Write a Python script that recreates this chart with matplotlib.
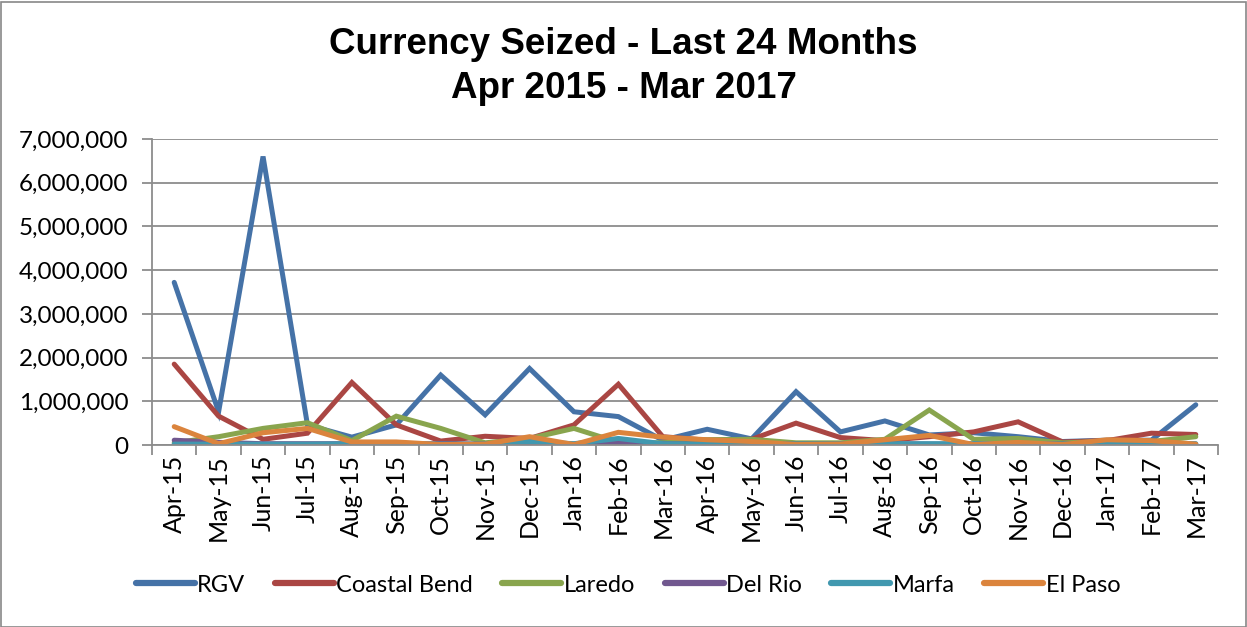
import matplotlib
matplotlib.use("Agg")
import matplotlib.pyplot as plt
from matplotlib.patches import Rectangle
from matplotlib.ticker import FuncFormatter, MultipleLocator
import numpy as np

months = ["Apr-15", "May-15", "Jun-15", "Jul-15", "Aug-15", "Sep-15", "Oct-15", "Nov-15",
          "Dec-15", "Jan-16", "Feb-16", "Mar-16", "Apr-16", "May-16", "Jun-16", "Jul-16",
          "Aug-16", "Sep-16", "Oct-16", "Nov-16", "Dec-16", "Jan-17", "Feb-17", "Mar-17"]

rgv = [3720000, 760000, 6600000, 460000, 180000, 460000, 1600000, 690000,
       1750000, 760000, 650000, 110000, 360000, 140000, 1220000, 300000,
       550000, 230000, 280000, 190000, 80000, 110000, 110000, 920000]
coastal_bend = [1850000, 660000, 130000, 270000, 1430000, 460000, 90000, 200000,
                150000, 460000, 1390000, 190000, 110000, 130000, 500000, 170000,
                100000, 190000, 300000, 530000, 70000, 100000, 270000, 240000]
laredo = [50000, 190000, 380000, 510000, 100000, 660000, 380000, 50000,
          150000, 380000, 60000, 50000, 120000, 130000, 50000, 50000,
          130000, 800000, 130000, 150000, 50000, 80000, 80000, 190000]
del_rio = [110000, 60000, 30000, 30000, 30000, 20000, 30000, 20000,
           40000, 20000, 40000, 30000, 20000, 20000, 20000, 20000,
           30000, 20000, 20000, 30000, 20000, 20000, 30000, 20000]
marfa = [20000, 20000, 20000, 20000, 30000, 30000, 20000, 20000,
         80000, 30000, 150000, 30000, 20000, 20000, 20000, 20000,
         30000, 30000, 30000, 30000, 20000, 50000, 40000, 30000]
el_paso = [420000, 30000, 280000, 380000, 70000, 70000, 10000, 20000,
           190000, 10000, 290000, 180000, 120000, 80000, 10000, 20000,
           120000, 220000, 10000, 60000, 10000, 120000, 100000, 20000]

series = [("RGV", rgv, "#4572A7"),
          ("Coastal Bend", coastal_bend, "#AA4643"),
          ("Laredo", laredo, "#89A54E"),
          ("Del Rio", del_rio, "#71588F"),
          ("Marfa", marfa, "#4198AF"),
          ("El Paso", el_paso, "#DB843D")]

W, H = 1247, 627
fig = plt.figure(figsize=(W / 100, H / 100), dpi=100)
fig.patches.append(Rectangle((0.5 / W, 0.5 / H), 1 - 2 / W, 1 - 2 / H, transform=fig.transFigure,
                             fill=False, edgecolor="#888888", linewidth=1.2))

ax = fig.add_axes([152 / W, (H - 445) / H, (1218 - 152) / W, (445 - 139) / H])
x = np.arange(len(months))
for name, vals, col in series:
    ax.plot(x, vals, color=col, linewidth=3.6, label=name, solid_capstyle="round",
            solid_joinstyle="miter")

ax.set_xlim(-0.5, len(months) - 0.5)
ax.set_ylim(0, 7000000)
ax.yaxis.set_major_locator(MultipleLocator(1000000))
ax.yaxis.set_major_formatter(FuncFormatter(lambda v, p: f"{int(v):,}"))
ax.grid(axis="y", color="#8c8c8c", linewidth=1.3)
ax.set_axisbelow(True)

ax.set_xticks(x)
ax.set_xticklabels(months, rotation=90, fontfamily="Lato", fontsize=18)
ax.set_xticks(np.arange(len(months) + 1) - 0.5, minor=True)
ax.tick_params(axis="x", which="major", length=0, pad=7)
ax.tick_params(axis="x", which="minor", length=7, color="#8c8c8c", width=1.3, direction="out")
ax.tick_params(axis="y", length=7, color="#8c8c8c", width=1.3, pad=10)
for lab in ax.get_yticklabels():
    lab.set_fontfamily("Lato")
    lab.set_fontsize(17.5)

for s in ["top", "right"]:
    ax.spines[s].set_visible(False)
for s in ["left", "bottom"]:
    ax.spines[s].set_color("#8c8c8c")
    ax.spines[s].set_linewidth(1.3)

fig.text(0.5, (H - 44) / H, "Currency Seized - Last 24 Months", ha="center", va="center",
         fontfamily="Liberation Sans", fontweight="bold", fontsize=26.5)
fig.text(0.5, (H - 88) / H, "Apr 2015 - Mar 2017", ha="center", va="center",
         fontfamily="Liberation Sans", fontweight="bold", fontsize=26.5)

leg = fig.legend(loc="center", bbox_to_anchor=(628 / W, (H - 585) / H), ncol=6, frameon=False,
                 prop={"family": "Lato", "size": 17}, handlelength=2.5, handletextpad=0.1,
                 columnspacing=1.25)
for line in leg.get_lines():
    line.set_linewidth(4.5)

fig.savefig("out.png", dpi=100)
